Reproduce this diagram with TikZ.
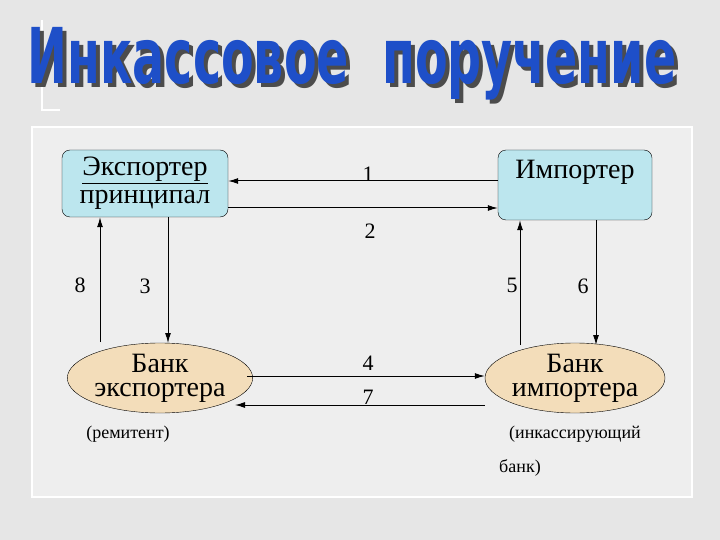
\documentclass[tikz,border=0pt]{standalone}
\usepackage{fontspec}
\setmainfont{Liberation Serif}
\newfontfamily\titlefont{DejaVu Sans}
\usetikzlibrary{shapes.geometric,arrows.meta}
\definecolor{bg}{HTML}{E6E6E6}
\definecolor{panel}{HTML}{EEEEEE}
\definecolor{boxc}{HTML}{BCE6EE}
\definecolor{ellc}{HTML}{F3DDBA}
\definecolor{tblue}{HTML}{1E4FC8}
\tikzset{
 party/.style={draw=black,rounded corners=8pt,fill=boxc,font=\fontsize{28}{24}\selectfont,align=center,inner sep=0pt},
 bank/.style={ellipse,draw=black,fill=ellc,minimum width=180,minimum height=70,font=\fontsize{28}{24}\selectfont,align=center,inner sep=0pt},
 flow/.style={-{Latex[length=10pt,width=6pt]},line width=1pt},
 lbl/.style={font=\fontsize{22}{22}\selectfont},
 note/.style={font=\fontsize{18}{18}\selectfont}
}
\begin{document}
\begin{tikzpicture}[x=1pt,y=-1pt]
\useasboundingbox (0,0) rectangle (720,540);
\fill[bg] (0,0) rectangle (720,540);
\fill[panel] (32,127) rectangle (692,497);
\draw[white,line width=2pt] (32,127) rectangle (692,497);
\draw[white,line width=2pt] (42,20) -- (42,110) -- (60,110);
% title
\node[text=gray!60!black] at (356,68) {\titlefont\bfseries\fontsize{70}{70}\selectfont\scalebox{0.68}[1.1]{Инкассовое\ \ поручение}};
\node[text=tblue] (title) at (352,64) {\titlefont\bfseries\fontsize{70}{70}\selectfont\scalebox{0.68}[1.1]{Инкассовое\ \ поручение}};
% nodes
\node[party,minimum width=166,minimum height=67] (exp) at (145,183.5) {\underline{Экспортер}\\[4pt]принципал};
\node[party,minimum width=154,minimum height=70] (imp) at (575,185) {};
\node[font=\fontsize{28}{28}\selectfont] (impt) at (575,172) {Импортер};
\node[bank] (bexp) at (160,378) {Банк\\экспортера};
\node[bank] (bimp) at (575,378) {Банк\\импортера};
% horizontal
\draw[flow] (imp.west|-0,181) -- (exp.east|-0,181);
\draw[flow] (exp.east|-0,208) -- (imp.west|-0,208);
\draw[flow] (247,376) -- (bimp.west|-0,376);
\draw[flow] (bimp.west|-0,405) -- (235,405);
% vertical
\draw[flow] (100,342) -- (exp.south-|100,0);
\draw[flow] (exp.south-|168,0) -- (168,343);
\draw[flow] (520,345) -- (imp.south-|520,0);
\draw[flow] (imp.south-|596,0) -- (596,345);
% labels
\node[lbl] (l1) at (368,174) {1};
\node[lbl] (l2) at (370,231) {2};
\node[lbl] (l8) at (80,285) {8};
\node[lbl] (l3) at (145,286) {3};
\node[lbl] (l5) at (512,285) {5};
\node[lbl] (l6) at (583,286) {6};
\node[lbl] (l4) at (368,363) {4};
\node[lbl] (l7) at (368,397) {7};
\node[note] (n1) at (128,434) {(ремитент)};
\node[note] (n2) at (575,434) {(инкассирующий};
\node[note] (n3) at (520,468) {банк)};
\end{tikzpicture}
\end{document}
